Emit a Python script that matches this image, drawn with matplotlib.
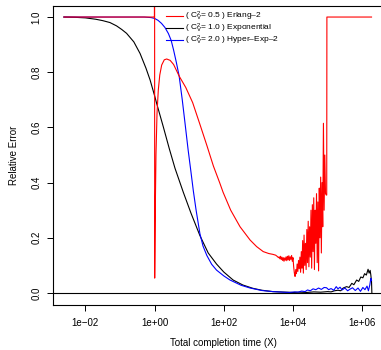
import matplotlib
matplotlib.use("Agg")
import matplotlib.pyplot as plt
import numpy as np

plt.rcParams["font.family"] = ["Liberation Sans", "DejaVu Sans"]
plt.rcParams["mathtext.fontset"] = "custom"
plt.rcParams["mathtext.rm"] = "Liberation Sans"
plt.rcParams["mathtext.it"] = "Liberation Sans"

# curves: log10(x) and relative error
red_logx = [-2.62, -0.02, -0.005, 0.0, 0.003, 0.01, 0.02, 0.04, 0.07, 0.107, 0.15,
            0.205, 0.28, 0.35, 0.45, 0.55, 0.71, 0.90, 1.10, 1.30, 1.51, 1.70,
            1.88, 1.98, 2.20, 2.47, 2.76, 2.95, 3.14, 3.30, 3.42, 3.50, 3.55, 3.58, 3.60,
            3.62, 3.64, 3.66, 3.68, 3.70, 3.72, 3.74, 3.76, 3.78, 3.80, 3.82,
            3.84, 3.86, 3.88, 3.90, 3.92, 3.94, 3.96, 3.98, 4.00, 4.02, 4.04,
            4.06, 4.08, 4.10, 4.12, 4.14, 4.16, 4.18, 4.20, 4.22, 4.24, 4.26,
            4.28, 4.30, 4.32, 4.34, 4.36, 4.38, 4.40, 4.42, 4.44, 4.46, 4.48,
            4.50, 4.52, 4.54, 4.56, 4.58, 4.60, 4.62, 4.64, 4.66, 4.68, 4.70,
            4.72, 4.74, 4.76, 4.78, 4.80, 4.82, 4.84, 4.86, 4.88, 4.90, 4.92,
            4.94, 4.96, 4.975, 4.98, 6.27]
red_err = [1.0, 1.0, 1.0, 1.5, 0.054, 0.15, 0.3, 0.5, 0.65, 0.735, 0.79,
           0.826, 0.845, 0.848, 0.843, 0.828, 0.786, 0.745, 0.69, 0.615, 0.535, 0.46,
           0.40, 0.365, 0.30, 0.24, 0.192, 0.168, 0.150, 0.143, 0.140, 0.137, 0.132, 0.128, 0.131,
           0.124, 0.133, 0.121, 0.130, 0.118, 0.128, 0.115, 0.127, 0.119, 0.131, 0.117,
           0.133, 0.120, 0.135, 0.118, 0.131, 0.122, 0.136, 0.115, 0.128, 0.095, 0.072,
           0.060, 0.085, 0.070, 0.105, 0.078, 0.118, 0.088, 0.130, 0.075, 0.150, 0.090,
           0.190, 0.072, 0.210, 0.100, 0.180, 0.085, 0.230, 0.110, 0.260, 0.095, 0.240,
           0.130, 0.300, 0.090, 0.320, 0.150, 0.345, 0.085, 0.300, 0.180, 0.360, 0.110,
           0.330, 0.080, 0.380, 0.200, 0.420, 0.145, 0.400, 0.240, 0.615, 0.300, 0.500,
           0.360, 0.355, 0.355, 1.0, 1.0]

black_logx = [-2.62, -2.3, -2.0, -1.7, -1.5, -1.29, -1.1, -0.95, -0.81, -0.6, -0.42,
              -0.25, -0.13, 0.0, 0.06, 0.25, 0.425, 0.59, 0.83, 1.05, 1.31, 1.55,
              1.79, 2.0, 2.27, 2.55, 2.84, 3.1, 3.42, 3.8, 4.0, 4.2, 4.4, 4.6, 4.8,
              5.0, 5.1, 5.2, 5.3, 5.38, 5.45, 5.55, 5.62, 5.70, 5.76, 5.84, 5.90,
              5.96, 6.02, 6.07, 6.12, 6.17, 6.20, 6.23, 6.25, 6.27, 6.28]
black_err = [1.0, 0.999, 0.997, 0.992, 0.987, 0.980, 0.968, 0.955, 0.941, 0.91, 0.868,
             0.815, 0.772, 0.715, 0.687, 0.603, 0.523, 0.452, 0.365, 0.29, 0.208, 0.145,
             0.105, 0.076, 0.047, 0.029, 0.017, 0.010, 0.005, 0.003, 0.002, 0.003, 0.002, 0.004, 0.003,
             0.005, 0.004, 0.008, 0.010, 0.008, 0.018, 0.023, 0.020, 0.035, 0.030, 0.047, 0.042,
             0.058, 0.055, 0.070, 0.065, 0.086, 0.072, 0.082, 0.065, 0.040, 0.0]

blue_logx = [-2.62, -0.30, -0.10, 0.0, 0.10, 0.20, 0.30, 0.40, 0.48, 0.55, 0.63,
             0.71, 0.80, 0.88, 0.97, 1.05, 1.12, 1.20, 1.31, 1.40, 1.51, 1.65,
             1.79, 2.0, 2.18, 2.50, 2.76, 3.10, 3.42, 3.7, 3.9, 4.05, 4.15, 4.25,
             4.35, 4.42, 4.50, 4.58, 4.66, 4.74, 4.82, 4.90, 4.97, 5.03, 5.10,
             5.18, 5.25, 5.30, 5.36, 5.42, 5.50, 5.58, 5.65, 5.72, 5.80, 5.88,
             5.95, 6.02, 6.08, 6.14, 6.18, 6.22, 6.25, 6.27]
blue_err = [1.0, 1.0, 0.998, 0.995, 0.988, 0.977, 0.962, 0.94, 0.915, 0.88, 0.835,
            0.786, 0.70, 0.615, 0.518, 0.44, 0.37, 0.30, 0.215, 0.17, 0.136, 0.104,
            0.083, 0.062, 0.047, 0.028, 0.018, 0.009, 0.005, 0.003, 0.002, 0.004, 0.003, 0.007,
            0.005, 0.011, 0.008, 0.015, 0.012, 0.018, 0.013, 0.020, 0.019, 0.012, 0.016,
            0.010, 0.023, 0.015, 0.021, 0.011, 0.018, 0.008, 0.014, 0.019, 0.009, 0.018,
            0.006, 0.020, 0.012, 0.025, 0.008, 0.029, 0.053, 0.045]

labels = ["( $\\mathrm{C_V^2}$= 0.5 ) Erlang\u20132",
          "( $\\mathrm{C_V^2}$= 1.0 ) Exponential",
          "( $\\mathrm{C_V^2}$= 2.0 ) Hyper\u2013Exp\u20132"]
xticks = [1e-2, 1e0, 1e2, 1e4, 1e6]
xtick_labels = ["1e\u221202", "1e+00", "1e+02", "1e+04", "1e+06"]
yticks = [0.0, 0.2, 0.4, 0.6, 0.8, 1.0]

fig = plt.figure(figsize=(3.81, 3.5), dpi=100)
ax = fig.add_axes([53 / 381, 45 / 350, 340 / 381, 299 / 350])

lw = 0.8
ax.plot(10 ** np.array(black_logx), black_err, color="black", lw=lw)
ax.plot(10 ** np.array(blue_logx), blue_err, color="#0000FF", lw=lw)
ax.plot(10 ** np.array(red_logx), red_err, color="#FF0000", lw=lw)
ax.axhline(0, color="black", lw=lw)

ax.set_xscale("log")
ax.set_xlim(10 ** -2.936, 10 ** (-2.936 + 340 / 34.6))
ax.set_ylim(-0.0435, 1.04)
ax.set_xticks(xticks)
ax.set_xticklabels(xtick_labels)
ax.minorticks_off()
ax.set_yticks(yticks)
ax.set_yticklabels([f"{v:.1f}" for v in yticks], rotation=90, va="center")
ax.tick_params(axis="both", length=4.5, width=0.7, labelsize=7, direction="out")
ax.tick_params(axis="x", pad=5)
ax.tick_params(axis="y", pad=4)
for s in ax.spines.values():
    s.set_linewidth(0.8)

ax.set_xlabel("Total completion time (X)", fontsize=7, labelpad=7)
ax.set_ylabel("Relative Error", fontsize=7, labelpad=9)

handles = [plt.Line2D([], [], color=c, lw=lw) for c in ["#FF0000", "black", "#0000FF"]]
fig.legend(handles, labels, loc="upper left", bbox_to_anchor=(166 / 381, 1 - 10 / 350),
           frameon=False, fontsize=6, handlelength=2.0, handletextpad=0.25,
           labelspacing=-0.15, borderpad=0, borderaxespad=0)

fig.savefig("out.png", dpi=100)
